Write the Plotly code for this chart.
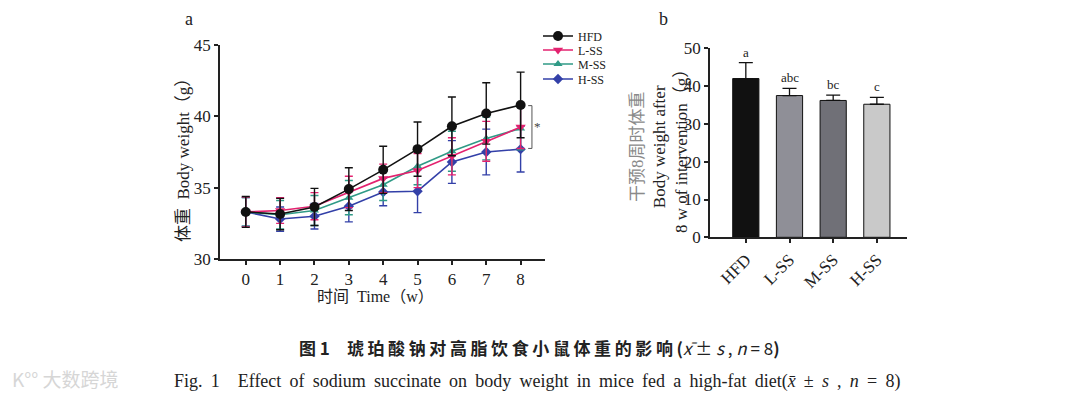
import plotly.graph_objects as go

# ---------------- data ----------------
weeks = [0, 1, 2, 3, 4, 5, 6, 7, 8]
groups = ["HFD", "L-SS", "M-SS", "H-SS"]

hfd_mean = [33.3, 33.15, 33.65, 34.9, 36.25, 37.7, 39.3, 40.2, 40.8]
hfd_sd = [1.08, 1.1, 1.3, 1.5, 1.65, 1.9, 2.06, 2.15, 2.3]
lss_mean = [33.3, 33.4, 33.7, 34.7, 35.65, 36.2, 37.2, 38.25, 39.25]
lss_sd = [1.05, 0.9, 0.95, 1.1, 1.0, 1.2, 1.3, 1.4, 1.5]
mss_mean = [33.3, 33.1, 33.4, 34.3, 35.2, 36.5, 37.55, 38.45, 39.15]
mss_sd = [1.0, 1.0, 1.05, 1.2, 1.1, 1.3, 1.4, 1.5, 1.5]
hss_mean = [33.3, 32.8, 33.0, 33.7, 34.7, 34.75, 36.8, 37.5, 37.7]
hss_sd = [1.0, 0.85, 0.9, 1.1, 0.97, 1.5, 1.5, 1.6, 1.6]

bar_mean = [42.0, 37.5, 36.2, 35.2]
bar_sd = [4.2, 1.9, 1.4, 1.8]
bar_letters = ["a", "abc", "bc", "c"]

y1_ticks = [30, 35, 40, 45]
y2_ticks = [0, 10, 20, 30, 40, 50]

# ---------------- styles / layout helpers ----------------
SERIF = "Liberation Serif, Times New Roman, Noto Sans CJK SC"
line_colors = ["#111111", "#e3226f", "#2f9a86", "#3340a8"]
markers = ["circle", "triangle-down", "triangle-up", "diamond"]
msizes = [10, 9, 8, 8]
bar_colors = ["#111111", "#8f8f97", "#707077", "#c9c9c9"]

W, H, OFF = 1080, 396, 8  # page body margin offsets the figure by 8px


def px(x):
    return (x - OFF) / W


def py(y):
    return 1 - (y - OFF) / H


def note(x, y, text, size, family=SERIF, color="#222222", xanchor="center", angle=0):
    fig.add_annotation(x=px(x), y=py(y), xref="paper", yref="paper", text=text,
                       showarrow=False, xanchor=xanchor, yanchor="middle", textangle=angle,
                       font=dict(family=family, size=size, color=color))


fig = go.Figure()

series = [(hfd_mean, hfd_sd), (lss_mean, lss_sd), (mss_mean, mss_sd), (hss_mean, hss_sd)]
legend_names = ["legend", "legend2", "legend3", "legend4"]
order = [3, 2, 1, 0]
for i in order:
    m, s = series[i]
    fig.add_trace(go.Scatter(
        x=weeks, y=m, name=groups[i], mode="lines+markers",
        line=dict(color=line_colors[i], width=1.6),
        marker=dict(symbol=markers[i], size=msizes[i], color=line_colors[i]),
        error_y=dict(type="data", array=s, visible=True, color=line_colors[i],
                     thickness=1.4, width=4),
        xaxis="x", yaxis="y", legend=legend_names[i],
    ))

fig.add_trace(go.Bar(
    x=groups, y=bar_mean, marker=dict(color=bar_colors, line=dict(color="#111111", width=1)),
    width=0.6, showlegend=False,
    error_y=dict(type="data", array=bar_sd, arrayminus=[0] * 4, visible=True,
                 color="#111111", thickness=1.3, width=7),
    xaxis="x2", yaxis="y2",
))

axis_common = dict(showline=True, linecolor="#222222", linewidth=1.5, ticks="outside",
                   ticklen=4, tickwidth=1.5, tickcolor="#222222", showgrid=False,
                   zeroline=False, automargin=False,
                   tickfont=dict(family=SERIF, size=17, color="#222222"))

legend_y = [36, 50, 64, 79]
legends = {}
for name, ly in zip(legend_names, legend_y):
    legends[name] = dict(x=px(538), y=py(ly), xanchor="left", yanchor="middle",
                         font=dict(family=SERIF, size=12, color="#222222"),
                         bgcolor="rgba(0,0,0,0)", itemwidth=30)

fig.update_layout(
    width=W, height=H,
    autosize=False,
    margin=dict(l=0, r=0, t=0, b=0, pad=0, autoexpand=False),
    paper_bgcolor="white", plot_bgcolor="white",
    font=dict(family=SERIF, color="#222222"),
    xaxis=dict(domain=[px(220), px(545)], range=[-0.75, 8.71],
               tickvals=weeks, anchor="y", **axis_common),
    yaxis=dict(domain=[py(259), py(45)], range=[30, 45],
               tickvals=y1_ticks, anchor="x", **axis_common),
    xaxis2=dict(domain=[px(710), px(907)], range=[-0.82, 3.69],
                tickangle=-45, anchor="y2", **axis_common),
    yaxis2=dict(domain=[py(237.3), py(48.3)], range=[0, 50],
                tickvals=y2_ticks, anchor="x2", **axis_common),
    showlegend=True,
    **legends,
)

# letters over bars
for g, m, s, t in zip(groups, bar_mean, bar_sd, bar_letters):
    fig.add_annotation(x=g, y=m + s, xref="x2", yref="y2", text=t, showarrow=False,
                       yanchor="bottom", yshift=1, font=dict(family=SERIF, size=13, color="#222222"))

# significance bracket at week 8
fig.add_shape(type="path", xref="x", yref="y",
              path="M 8.22 40.75 L 8.33 40.75 L 8.33 37.75 L 8.22 37.75",
              line=dict(color="#555555", width=1))
fig.add_annotation(x=8.5, y=39.3, xref="x", yref="y", text="*", showarrow=False,
                   xanchor="center", yanchor="middle",
                   font=dict(family=SERIF, size=13, color="#444444"))

# axis titles
note(375, 296, "时间  Time（w）", 16)
note(183, 156, "体重  Body weight（g）", 17, angle=-90)
note(659, 147, "<span style='color:#8a8a8a'>干预8周时体重</span><br>Body weight after<br>8 w of intervention（g）",
     17, angle=-90)

# panel labels
note(189, 19, "a", 18)
note(663, 19, "b", 18)

# captions
note(297, 347,
     "<b>图 1　<span style='letter-spacing:3.6px'>琥珀酸钠对高脂饮食小鼠体重的影响</span>(</b>"
     "<i>x̄</i> ± <i>s</i> , <i>n</i> = 8<b>)</b>",
     17, family="Noto Sans CJK SC, Liberation Serif", xanchor="left")
note(172, 381,
     "<span style='word-spacing:3.7px'>Fig. 1　Effect of sodium succinate on body weight in mice fed a high-fat diet(<i>x̄</i> ± <i>s</i> , <i>n</i> = 8)</span>",
     18, xanchor="left")
# watermark
note(10, 378, "K°° 大数跨境", 19, family="Noto Sans CJK SC", color="#d6d6d6", xanchor="left")

fig.write_html("out.html")
